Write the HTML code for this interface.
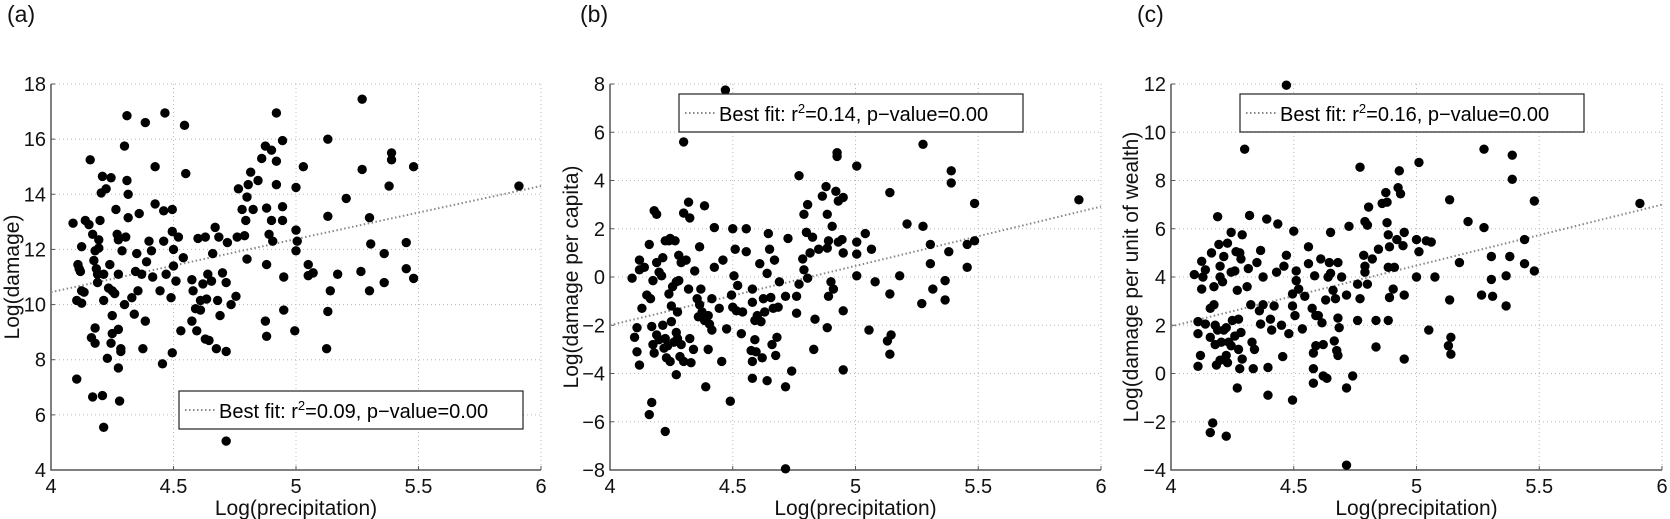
<!DOCTYPE html>
<html><head><meta charset="utf-8">
<style>
html,body{margin:0;padding:0;background:#fff;}
svg{display:block;font-family:"Liberation Sans",Arial,sans-serif;}
</style></head>
<body>
<svg id="fig" width="1670" height="519" viewBox="0 0 1670 519" xmlns="http://www.w3.org/2000/svg"></svg>
<script>
const xTicks=[4,4.5,5,5.5,6];
const xTickLabels=["4","4.5","5","5.5","6"];
const yTicksA=[4,6,8,10,12,14,16,18];
const yTicksB=[-8,-6,-4,-2,0,2,4,6,8];
const yTicksC=[-4,-2,0,2,4,6,8,10,12];
const fitA=[10.45,14.3];
const fitB=[-2.0,2.92];
const fitC=[1.95,7.0];
const r2Labels=["0.09","0.14","0.16"];
const xA=[4.09,4.105,4.105,4.11,4.115,4.12,4.125,4.125,4.125,4.135,4.14,4.155,4.16,4.165,4.17,4.17,4.175,4.18,4.18,4.18,4.185,4.19,4.19,4.195,4.195,4.2,4.205,4.21,4.21,4.215,4.215,4.215,4.225,4.23,4.235,4.24,4.245,4.245,4.25,4.25,4.25,4.26,4.265,4.27,4.275,4.275,4.275,4.275,4.28,4.285,4.285,4.29,4.3,4.3,4.305,4.31,4.31,4.315,4.315,4.33,4.34,4.345,4.35,4.355,4.36,4.37,4.375,4.385,4.385,4.39,4.4,4.41,4.415,4.425,4.425,4.445,4.455,4.46,4.46,4.465,4.47,4.49,4.495,4.495,4.495,4.5,4.5,4.51,4.52,4.53,4.54,4.545,4.55,4.575,4.575,4.58,4.59,4.595,4.6,4.61,4.61,4.62,4.63,4.63,4.635,4.64,4.645,4.655,4.66,4.67,4.675,4.68,4.685,4.69,4.7,4.715,4.715,4.715,4.72,4.735,4.755,4.76,4.765,4.78,4.79,4.795,4.8,4.8,4.805,4.815,4.825,4.845,4.86,4.875,4.88,4.875,4.88,4.88,4.89,4.9,4.9,4.905,4.92,4.92,4.92,4.945,4.945,4.945,4.95,4.95,4.995,5.0,5.0,5.0,5.005,5.03,5.05,5.05,5.07,5.125,5.13,5.13,5.13,5.14,5.17,5.205,5.265,5.27,5.27,5.3,5.3,5.305,5.36,5.36,5.38,5.39,5.39,5.45,5.45,5.48,5.48,5.91];
const yA=[12.95,7.3,10.15,11.45,11.3,11.2,12.1,10.05,10.5,10.45,13.05,12.9,15.25,8.8,12.55,6.65,11.6,8.6,9.15,11.95,11.3,11.1,10.8,12.05,12.35,13.05,14.05,6.7,14.65,5.55,11.1,10.15,14.2,8.05,10.6,11.45,8.6,14.6,9.6,8.95,10.5,10.4,13.45,12.55,7.7,12.35,9.1,11.1,6.5,8.4,8.3,11.95,10.0,15.75,12.45,16.85,14.5,14.0,13.15,10.25,9.65,11.2,11.85,10.5,13.3,11.1,8.4,16.6,9.4,11.55,12.3,11.95,11.0,15.0,13.65,10.5,7.85,12.3,13.4,16.95,11.1,10.25,13.45,12.65,8.25,12.0,11.4,10.85,12.45,9.05,11.7,16.5,14.75,10.9,9.4,10.5,9.85,9.05,12.4,10.15,9.8,10.75,12.45,8.75,10.2,11.1,8.7,10.85,11.85,12.8,8.4,10.15,12.45,9.6,11.15,10.8,8.3,5.05,12.25,10.0,10.3,12.45,14.2,13.45,12.5,13.05,13.9,11.65,14.35,14.8,13.45,14.5,15.3,9.4,11.45,15.75,13.5,8.85,12.55,15.6,13.05,12.3,15.2,16.95,14.35,15.95,13.55,13.05,11.0,9.8,9.05,14.25,12.7,11.95,12.3,15.0,11.45,11.05,11.15,8.4,16.0,13.2,9.75,10.5,11.1,13.85,11.2,17.45,14.9,13.15,10.5,12.2,11.85,10.8,14.3,15.5,15.25,12.25,11.3,15.0,10.95,14.3];
const xB=[4.09,4.11,4.1,4.11,4.12,4.12,4.12,4.13,4.14,4.15,4.16,4.16,4.165,4.17,4.17,4.175,4.175,4.18,4.18,4.19,4.19,4.19,4.2,4.2,4.21,4.215,4.215,4.22,4.225,4.225,4.225,4.23,4.235,4.24,4.24,4.245,4.245,4.25,4.25,4.255,4.26,4.265,4.27,4.27,4.27,4.275,4.275,4.28,4.28,4.285,4.29,4.29,4.3,4.3,4.3,4.31,4.32,4.32,4.325,4.325,4.33,4.34,4.345,4.355,4.36,4.365,4.365,4.37,4.375,4.385,4.385,4.4,4.39,4.4,4.405,4.415,4.415,4.425,4.425,4.445,4.455,4.46,4.47,4.475,4.49,4.495,4.5,4.5,4.505,4.51,4.515,4.52,4.535,4.54,4.555,4.555,4.575,4.58,4.58,4.58,4.58,4.59,4.59,4.595,4.6,4.61,4.615,4.62,4.625,4.63,4.64,4.64,4.645,4.65,4.655,4.66,4.665,4.67,4.675,4.68,4.685,4.69,4.715,4.715,4.715,4.725,4.74,4.76,4.76,4.77,4.77,4.785,4.79,4.79,4.8,4.805,4.805,4.815,4.825,4.83,4.835,4.85,4.865,4.88,4.885,4.885,4.885,4.89,4.89,4.9,4.905,4.91,4.92,4.925,4.925,4.93,4.93,4.945,4.95,4.95,4.95,4.95,5.005,5.005,5.005,5.005,5.04,5.055,5.065,5.08,5.14,5.14,5.13,5.145,5.14,5.18,5.21,5.27,5.275,5.275,5.305,5.305,5.315,5.365,5.365,5.38,5.39,5.39,5.455,5.455,5.485,5.485,5.91];
const yB=[-0.05,-2.1,-2.5,-3.1,-3.65,0.7,0.3,-1.3,0.4,-0.75,-5.7,1.35,-0.9,-5.2,-2.05,-0.15,-2.8,2.75,-3.15,2.6,0.6,-2.4,-2.6,0.2,0.05,0.8,-2.0,-2.95,1.5,-2.55,-6.4,-3.35,-2.85,1.5,-0.7,-3.5,1.6,-1.2,-1.85,-0.4,-2.7,1.5,-0.2,-2.3,-4.05,-1.45,-2.55,0.9,-0.15,-3.3,-2.8,0.6,5.6,-3.5,2.65,0.7,3.1,-0.5,2.45,-2.55,-3.55,-3.0,0.25,-0.9,-1.65,1.25,-1.15,-0.5,-1.45,2.95,-1.8,-3.0,-4.55,-1.6,-1.95,-0.9,-2.2,2.05,0.4,-1.3,-3.5,0.7,7.75,-2.15,-5.15,-0.75,2.0,-1.25,0.05,1.15,-1.4,-0.35,-2.35,-1.45,2.0,1.05,-3.05,-1.05,-4.2,-0.5,-3.5,-1.8,-2.6,-3.1,-1.6,0.55,-1.85,-3.35,-0.9,-1.45,-4.3,0.15,1.8,1.15,-0.85,-2.8,-1.3,0.7,-3.25,-2.5,-1.25,-0.2,-0.8,-4.55,-7.95,1.6,-3.9,-0.8,-1.5,4.2,-0.3,0.75,0.3,2.6,1.85,3.0,-0.05,1.0,1.65,-3.0,-1.75,1.15,3.35,3.75,2.6,1.2,-2.1,1.5,-0.8,-0.2,2.1,-0.5,3.55,5.15,5.0,3.15,1.45,1.55,1.0,3.3,-1.4,-3.85,4.6,1.45,0.95,0.05,1.8,-2.2,1.15,-0.2,3.5,-0.7,-2.65,-2.4,-3.2,0.05,2.2,-1.1,5.5,2.1,1.35,0.55,-0.5,-0.15,-0.95,1.05,4.4,3.9,1.35,0.4,3.05,1.5,3.2];
const xC=[4.095,4.11,4.11,4.11,4.12,4.125,4.125,4.13,4.14,4.14,4.16,4.16,4.16,4.165,4.17,4.175,4.175,4.18,4.18,4.185,4.19,4.19,4.195,4.2,4.2,4.2,4.205,4.21,4.215,4.215,4.225,4.225,4.225,4.23,4.23,4.235,4.245,4.245,4.245,4.25,4.26,4.26,4.265,4.27,4.27,4.275,4.275,4.28,4.28,4.285,4.285,4.29,4.29,4.3,4.31,4.315,4.32,4.325,4.33,4.335,4.34,4.35,4.36,4.365,4.365,4.375,4.375,4.39,4.395,4.395,4.405,4.41,4.42,4.43,4.435,4.45,4.455,4.46,4.47,4.47,4.48,4.495,4.495,4.495,4.5,4.505,4.51,4.51,4.52,4.535,4.545,4.56,4.56,4.575,4.58,4.58,4.58,4.585,4.59,4.59,4.6,4.61,4.615,4.62,4.62,4.63,4.635,4.64,4.645,4.65,4.65,4.66,4.665,4.67,4.675,4.68,4.68,4.68,4.685,4.695,4.715,4.715,4.715,4.725,4.74,4.76,4.76,4.77,4.77,4.785,4.79,4.79,4.79,4.8,4.8,4.805,4.82,4.835,4.835,4.845,4.86,4.875,4.88,4.88,4.885,4.885,4.885,4.89,4.89,4.905,4.91,4.92,4.925,4.93,4.935,4.945,4.95,4.95,4.95,5.0,5.0,5.01,5.01,5.04,5.06,5.05,5.075,5.13,5.135,5.135,5.14,5.14,5.175,5.21,5.265,5.275,5.275,5.305,5.305,5.31,5.365,5.365,5.38,5.39,5.39,5.44,5.44,5.48,5.48,5.91];
const yC=[4.1,2.15,1.65,0.3,0.75,4.65,3.5,4.0,4.3,2.05,2.7,1.5,-2.45,5.0,-2.05,3.6,2.85,2.0,1.2,0.35,6.5,1.8,5.35,4.0,4.45,0.55,1.3,3.8,1.8,4.85,0.75,1.9,-2.6,5.4,0.45,1.3,5.85,4.2,1.15,2.2,4.25,1.55,5.05,3.45,-0.6,2.25,1.0,0.2,5.0,1.7,4.75,5.75,0.6,9.3,3.6,4.35,6.55,2.85,1.3,0.2,1.0,4.6,2.6,5.1,2.05,4.0,2.85,6.4,-0.9,0.25,2.25,1.8,2.8,4.2,6.2,2.0,0.7,4.45,11.95,4.9,1.65,3.3,2.8,-1.1,5.9,2.4,4.25,3.85,3.5,1.85,3.2,5.25,4.55,2.7,0.85,0.2,-0.4,4.05,2.4,1.15,2.4,4.75,2.1,1.2,-0.1,3.05,-0.2,4.0,4.6,5.85,4.15,3.45,1.35,3.1,0.95,4.6,0.75,2.3,1.9,4.0,3.25,-0.6,-3.8,6.1,-0.1,3.7,2.2,8.55,3.1,4.9,4.45,6.3,4.2,6.15,3.7,6.9,4.75,1.1,2.2,5.15,7.05,7.5,7.1,6.25,5.75,4.4,2.2,5.25,3.15,3.5,4.4,5.55,7.7,8.4,7.45,5.3,5.85,3.25,0.6,4.0,5.55,8.75,5.05,5.5,5.45,1.8,4.0,1.15,7.2,3.05,0.8,1.5,4.6,6.3,3.25,9.3,6.05,4.85,3.9,3.2,4.05,2.8,4.85,9.05,8.05,5.55,4.55,7.15,4.25,7.05];

const NS="http://www.w3.org/2000/svg";
const svg=document.getElementById('fig');
function mk(tag,attrs,parent){const e=document.createElementNS(NS,tag);for(const k in attrs)e.setAttribute(k,attrs[k]);(parent||svg).appendChild(e);return e;}

function panel(cfg){
  const g=mk('g',{});
  
  
  const {x0,x1,y0,y1,ymin,ymax}=cfg;
  const sx=v=>x0+(v-4)/(6-4)*(x1-x0);
  const sy=v=>y1-(v-ymin)/(ymax-ymin)*(y1-y0);
  xTicks.forEach((t,i)=>{
    if(i>0){const l=mk('line',{x1:sx(t),x2:sx(t),y1:y0,y2:y1,stroke:'#b8b8b8','stroke-width':1,'stroke-dasharray':'1 3'},g);
    
    }
  });
  cfg.yTicks.forEach((t,i)=>{
    if(i>0){const l=mk('line',{x1:x0,x2:x1,y1:sy(t),y2:sy(t),stroke:'#b8b8b8','stroke-width':1,'stroke-dasharray':'1 3'},g);
    
    }
  });
  const ax=mk('path',{d:`M${x0},${y0}L${x0},${y1}L${x1},${y1}`,fill:'none',stroke:'#555','stroke-width':1.5},g);
  
  
  xTicks.forEach((t,i)=>{
    mk('line',{x1:sx(t),x2:sx(t),y1:y1,y2:y1-4,stroke:'#555'},g);
    const tx=mk('text',{x:sx(t),y:y1+23,'font-size':20,'text-anchor':'middle',fill:'#111'},g);
    tx.textContent=xTickLabels[i];
    
    
  });
  cfg.yTicks.forEach(t=>{
    mk('line',{x1:x0,x2:x0+4,y1:sy(t),y2:sy(t),stroke:'#555'},g);
    const tx=mk('text',{x:x0-5,y:sy(t)+7,'font-size':20,'text-anchor':'end',fill:'#111'},g);
    tx.textContent=(t<0?'\u2212'+(-t):String(t));
    
    
  });
  const xt=mk('text',{x:(x0+x1)/2,y:y1+45,'font-size':21,'text-anchor':'middle',fill:'#111'},g);
  xt.textContent='Log(precipitation)';
  
  
  const yt=mk('text',{x:0,y:0,'font-size':21,'text-anchor':'middle',fill:'#111',transform:`translate(${cfg.ytx},${(y0+y1)/2}) rotate(-90)`},g);
  yt.textContent=cfg.ytitle;
  
  
  const fl=mk('line',{x1:sx(4),y1:sy(cfg.fit[0]),x2:sx(6),y2:sy(cfg.fit[1]),stroke:'#888','stroke-width':2,'stroke-dasharray':'1.5 2.5'},g);
  
  
  cfg.xs.forEach((xv,i)=>{
    const c=mk('circle',{cx:sx(xv),cy:sy(cfg.ys[i]),r:4.7,fill:'#000'},g);
    
    
  });
  const lg=mk('g',{},g);
  
  
  mk('rect',{x:cfg.lx,y:cfg.ly,width:344,height:38,fill:'#fff',stroke:'#222','stroke-width':1.2},lg);
  const ls=mk('line',{x1:cfg.lx+6,x2:cfg.lx+38,y1:cfg.ly+19,y2:cfg.ly+19,stroke:'#888','stroke-width':2,'stroke-dasharray':'1.5 2.5'},lg);
  
  
  const lt=mk('text',{x:cfg.lx+40,y:cfg.ly+27,'font-size':20,fill:'#000'},lg);
  lt.innerHTML='Best fit: r<tspan dy="-8" font-size="13">2</tspan><tspan dy="8">='+cfg.r2+', p\u2212value=0.00</tspan>';
  
  
  const pl=mk('text',{x:cfg.px,y:22,'font-size':23,fill:'#111'},g);
  pl.textContent=cfg.letter;
  
  
}
panel({name:'panel-a',x0:51,x1:541,y0:84,y1:470,ymin:4,ymax:18,yTicks:yTicksA,xs:xA,ys:yA,fit:fitA,r2:r2Labels[0],lx:179,ly:391,ytitle:'Log(damage)',ytx:19,px:7,letter:'(a)'});
panel({name:'panel-b',x0:610,x1:1101,y0:84,y1:470,ymin:-8,ymax:8,yTicks:yTicksB,xs:xB,ys:yB,fit:fitB,r2:r2Labels[1],lx:679,ly:94,ytitle:'Log(damage per capita)',ytx:578,px:580,letter:'(b)'});
panel({name:'panel-c',x0:1171,x1:1662,y0:84,y1:470,ymin:-4,ymax:12,yTicks:yTicksC,xs:xC,ys:yC,fit:fitC,r2:r2Labels[2],lx:1240,ly:94,ytitle:'Log(damage per unit of wealth)',ytx:1138,px:1137,letter:'(c)'});
</script>
</body></html>
